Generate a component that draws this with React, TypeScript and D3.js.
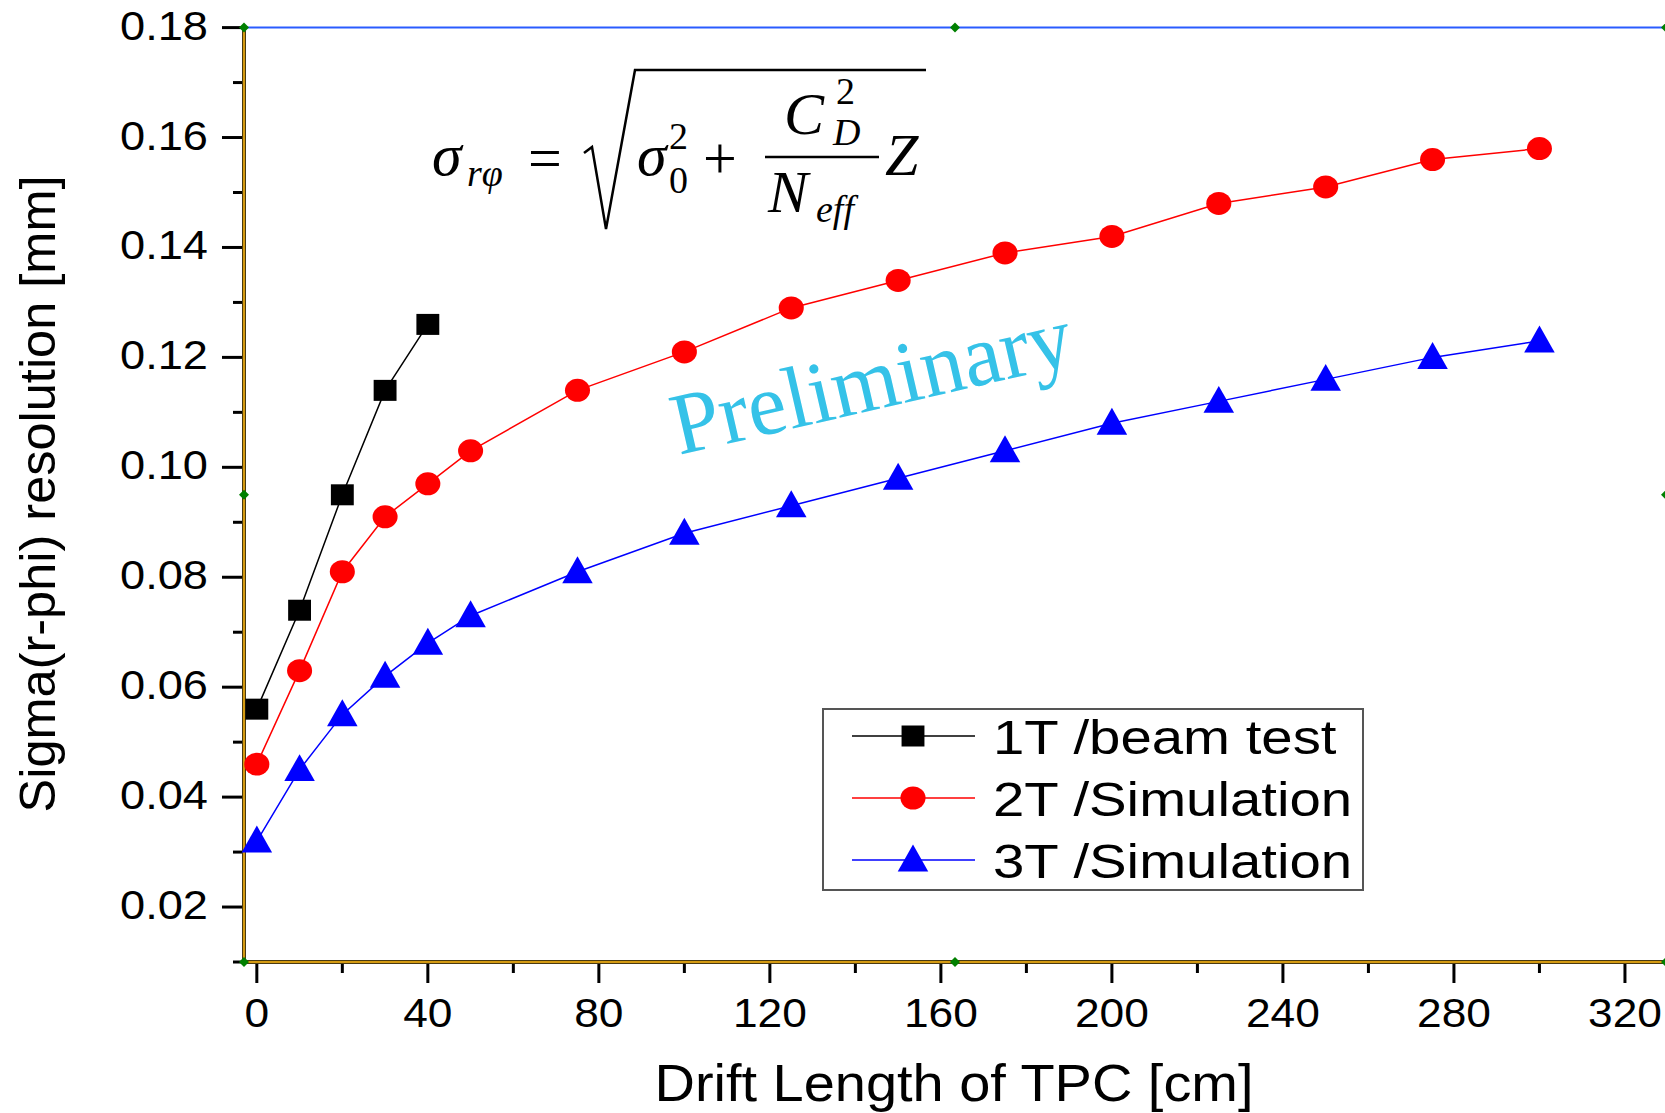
import React, { useEffect, useRef } from 'react';
import * as d3 from 'd3';

// drift length [cm]
const driftBeam = [0, 10, 20, 30, 40];
const driftSim = [0, 10, 20, 30, 40, 50, 75, 100, 125, 150, 175, 200, 225, 250, 275, 300];

// sigma(r-phi) [mm]
const res1T = [0.056, 0.074, 0.095, 0.114, 0.126];
const res2T = [0.046, 0.063, 0.081, 0.091, 0.097, 0.103, 0.114, 0.121, 0.129, 0.134, 0.139, 0.142, 0.148, 0.151, 0.156, 0.158];
const res3T = [0.032, 0.045, 0.055, 0.062, 0.068, 0.073, 0.081, 0.088, 0.093, 0.098, 0.103, 0.108, 0.112, 0.116, 0.120, 0.123];

const xTicks = [0, 40, 80, 120, 160, 200, 240, 280, 320];
const xMinor = [20, 60, 100, 140, 180, 220, 260, 300];
const yTicks = [0.02, 0.04, 0.06, 0.08, 0.10, 0.12, 0.14, 0.16, 0.18];
const yMinor = [0.01, 0.03, 0.05, 0.07, 0.09, 0.11, 0.13, 0.15, 0.17];

const legendLabels = ['1T /beam test', '2T /Simulation', '3T /Simulation'];

const W = 1665;
const H = 1113;
const SANS = 'Liberation Sans, Arial, sans-serif';
const SERIF = 'Liberation Serif, Times New Roman, serif';

const App = () => {
    const ref = useRef<SVGSVGElement>(null);

    useEffect(() => {
        const svg = d3.select(ref.current);
        svg.selectAll('*').remove();

        const x = d3.scaleLinear().domain([-3, 329.6]).range([244, 1666]);
        const y = d3.scaleLinear().domain([0.01, 0.18]).range([962, 27.6]);
        const [x0, x1] = x.range();
        const [yb, yt] = y.range();

        // frame: blue top line, golden left/bottom axes
        svg.append('line')
            .attr('x1', x0).attr('x2', x1).attr('y1', yt).attr('y2', yt)
            .attr('stroke', '#2a5cff').attr('stroke-width', 2);
        const axisLines = [
            [x0, yt, x0, yb],
            [x0, yb, x1, yb],
        ];
        axisLines.forEach(([a, b, c, d]) => {
            svg.append('line').attr('x1', a).attr('y1', b).attr('x2', c).attr('y2', d)
                .attr('stroke', '#4a3a10').attr('stroke-width', 4);
            svg.append('line').attr('x1', a).attr('y1', b).attr('x2', c).attr('y2', d)
                .attr('stroke', '#d49a12').attr('stroke-width', 2);
        });

        // y ticks
        const gy = svg.append('g');
        gy.selectAll('.maj').data(yTicks).enter().append('line')
            .attr('x1', x0 - 22).attr('x2', x0 - 2)
            .attr('y1', d => y(d)).attr('y2', d => y(d))
            .attr('stroke', '#000').attr('stroke-width', 3);
        gy.selectAll('.min').data(yMinor).enter().append('line')
            .attr('x1', x0 - 11).attr('x2', x0 - 2)
            .attr('y1', d => y(d)).attr('y2', d => y(d))
            .attr('stroke', '#000').attr('stroke-width', 3);
        gy.selectAll('text').data(yTicks).enter().append('text')
            .attr('transform', d => `translate(208,${y(d) + 12}) scale(1.13,1)`)
            .attr('text-anchor', 'end')
            .attr('font-family', SANS).attr('font-size', 40)
            .text(d => d3.format('.2f')(d));

        // x ticks
        const gx = svg.append('g');
        gx.selectAll('.maj').data(xTicks).enter().append('line')
            .attr('x1', d => x(d)).attr('x2', d => x(d))
            .attr('y1', yb + 2).attr('y2', yb + 21)
            .attr('stroke', '#000').attr('stroke-width', 3);
        gx.selectAll('.min').data(xMinor).enter().append('line')
            .attr('x1', d => x(d)).attr('x2', d => x(d))
            .attr('y1', yb + 2).attr('y2', yb + 11)
            .attr('stroke', '#000').attr('stroke-width', 3);
        gx.selectAll('text').data(xTicks).enter().append('text')
            .attr('transform', d => `translate(${x(d)},1027) scale(1.08,1)`)
            .attr('text-anchor', 'middle')
            .attr('font-family', SANS).attr('font-size', 41)
            .text(d => String(d));

        // axis titles
        svg.append('text')
            .attr('x', 954).attr('y', 1101)
            .attr('text-anchor', 'middle')
            .attr('font-family', SANS).attr('font-size', 52)
            .attr('textLength', 599).attr('lengthAdjust', 'spacingAndGlyphs')
            .text('Drift Length of TPC [cm]');
        svg.append('text')
            .attr('transform', 'translate(55,494) rotate(-90)')
            .attr('text-anchor', 'middle')
            .attr('font-family', SANS).attr('font-size', 50)
            .attr('textLength', 637).attr('lengthAdjust', 'spacingAndGlyphs')
            .text('Sigma(r-phi) resolution [mm]');

        // series
        const series = [
            { xs: driftBeam, ys: res1T, color: '#000000', shape: d3.symbolSquare, size: 441, dy: 0 },
            { xs: driftSim, ys: res2T, color: '#ff0000', shape: d3.symbolCircle, size: 415, dy: 0 },
            { xs: driftSim, ys: res3T, color: '#0000ff', shape: d3.symbolTriangle, size: 420, dy: 2.5 },
        ];
        const line = d3.line<[number, number]>().x(d => x(d[0])).y(d => y(d[1]));
        series.forEach(s => {
            const pts = s.xs.map((v, i) => [v, s.ys[i]] as [number, number]);
            svg.append('path').attr('d', line(pts))
                .attr('fill', 'none').attr('stroke', s.color).attr('stroke-width', 1.5);
            svg.selectAll(null).data(pts).enter().append('path')
                .attr('d', d3.symbol().type(s.shape).size(s.size)())
                .attr('transform', d => `translate(${x(d[0])},${y(d[1]) + s.dy}) scale(${s.shape === d3.symbolTriangle ? 0.98 : 1.09},1)`)
                .attr('fill', s.color);
        });

        // legend
        const lg = svg.append('g');
        lg.append('rect').attr('x', 823).attr('y', 709).attr('width', 540).attr('height', 181)
            .attr('fill', 'none').attr('stroke', '#555').attr('stroke-width', 2);
        series.forEach((s, i) => {
            const cy = 736 + i * 62;
            lg.append('line').attr('x1', 852).attr('x2', 975).attr('y1', cy).attr('y2', cy)
                .attr('stroke', s.color).attr('stroke-width', 1.5);
            lg.append('path').attr('d', d3.symbol().type(s.shape).size(s.size)())
                .attr('transform', `translate(913,${cy + s.dy}) scale(${s.shape === d3.symbolTriangle ? 0.98 : 1.09},1)`)
                .attr('fill', s.color);
            lg.append('text')
                .attr('transform', `translate(993,${cy + 18}) scale(1.15,1)`)
                .attr('font-family', SANS).attr('font-size', 49)
                .text(legendLabels[i]);
        });

        // formula
        const f = svg.append('g').attr('font-family', SERIF).attr('fill', '#000');
        const t = (tx: number, ty: number, size: number, str: string, italic = true, anchor = 'start') =>
            f.append('text').attr('x', tx).attr('y', ty).attr('font-size', size)
                .attr('font-style', italic ? 'italic' : 'normal')
                .attr('text-anchor', anchor).text(str);
        t(432, 175, 60, 'σ');
        t(467, 186, 38, 'rφ');
        t(545, 178, 60, '=', false, 'middle');
        f.append('path').attr('d', 'M584,153 L592,147 L606,229 L635,70 L926,70')
            .attr('fill', 'none').attr('stroke', '#000').attr('stroke-width', 2.5)
            .attr('stroke-linejoin', 'miter');
        t(637, 175, 60, 'σ');
        t(669, 149, 38, '2', false);
        t(669, 193, 38, '0', false);
        t(720, 178, 60, '+', false, 'middle');
        f.append('line').attr('x1', 765).attr('x2', 879).attr('y1', 157).attr('y2', 157)
            .attr('stroke', '#000').attr('stroke-width', 2.5);
        t(784, 134, 60, 'C');
        t(836, 104, 38, '2', false);
        t(833, 145, 38, 'D');
        t(768, 212, 60, 'N');
        t(816, 222, 38, 'eff');
        t(885, 175, 60, 'Z');

        // watermark
        svg.append('text')
            .attr('transform', 'translate(679,455) rotate(-13)')
            .attr('font-family', SERIF).attr('font-size', 88)
            .attr('textLength', 408).attr('lengthAdjust', 'spacingAndGlyphs')
            .attr('fill', '#35c2e8')
            .text('Preliminary');

        // layer handles
        const xm = (x0 + x1) / 2;
        const ym = (yt + yb) / 2;
        const handles = [[x0, yt], [xm, yt], [x1, yt], [x0, ym], [x1, ym], [x0, yb], [xm, yb], [x1, yb]];
        svg.selectAll(null).data(handles).enter().append('path')
            .attr('d', 'M0,-5 L5,0 L0,5 L-5,0 Z')
            .attr('transform', d => `translate(${d[0]},${d[1]})`)
            .attr('fill', '#008000');
    }, []);

    return (
        <svg ref={ref} width={W} height={H}
            style={{ position: 'absolute', left: 0, top: 0, background: '#fff' }} />
    );
};

export default App;
